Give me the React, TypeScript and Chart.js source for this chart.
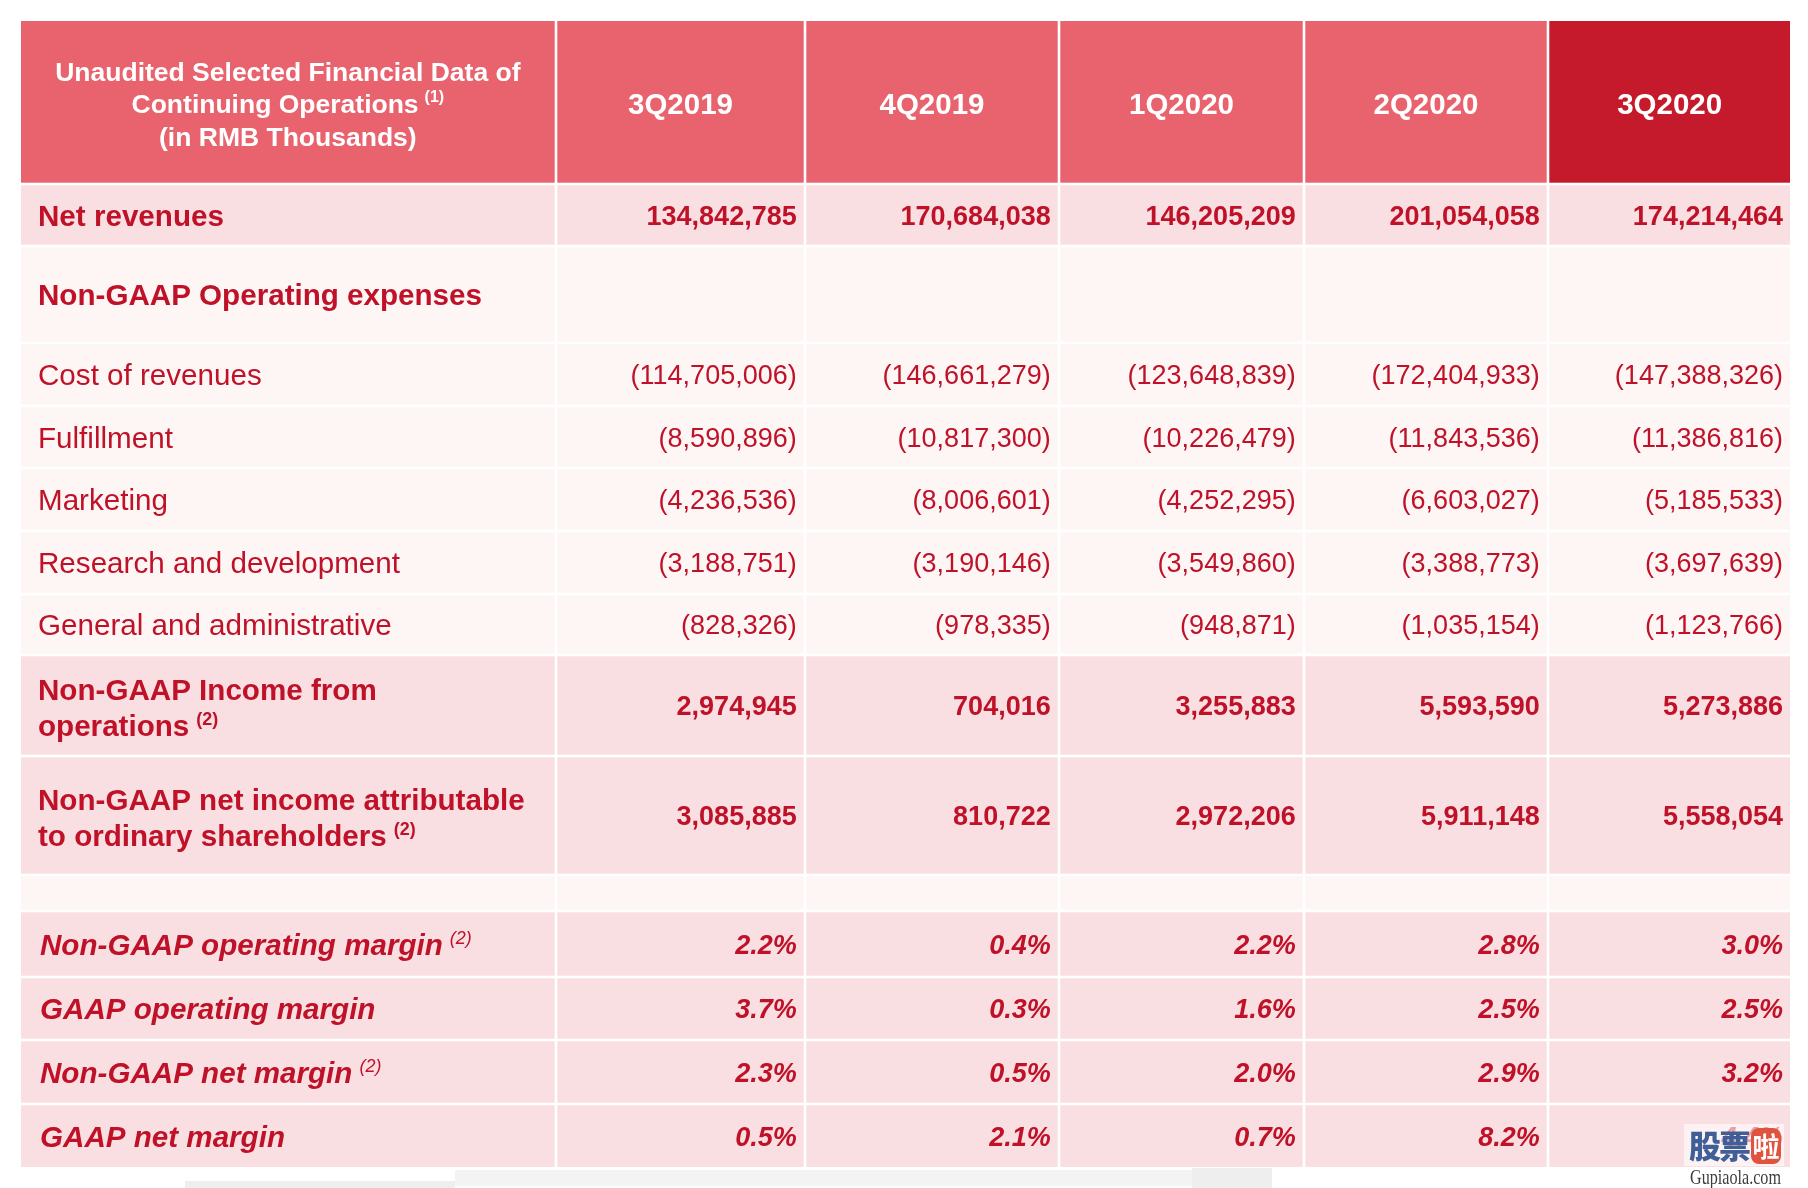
import React, { useEffect, useRef } from 'react';
import { Chart, registerables } from 'chart.js';

Chart.register(...registerables);

// ---------------- DATA ----------------
const quarters = ['3Q2019', '4Q2019', '1Q2020', '2Q2020', '3Q2020'];
const titleLines = ['Unaudited Selected Financial Data of', 'Continuing Operations', '(in RMB Thousands)'];
const titleSup = '(1)';

const netRevenues = [134842785, 170684038, 146205209, 201054058, 174214464];
const costOfRevenues = [-114705006, -146661279, -123648839, -172404933, -147388326];
const fulfillment = [-8590896, -10817300, -10226479, -11843536, -11386816];
const marketing = [-4236536, -8006601, -4252295, -6603027, -5185533];
const researchDevelopment = [-3188751, -3190146, -3549860, -3388773, -3697639];
const generalAdmin = [-828326, -978335, -948871, -1035154, -1123766];
const nonGaapIncomeOps = [2974945, 704016, 3255883, 5593590, 5273886];
const nonGaapNetIncome = [3085885, 810722, 2972206, 5911148, 5558054];
const nonGaapOpMargin = [2.2, 0.4, 2.2, 2.8, 3.0];
const gaapOpMargin = [3.7, 0.3, 1.6, 2.5, 2.5];
const nonGaapNetMargin = [2.3, 0.5, 2.0, 2.9, 3.2];
const gaapNetMargin = [0.5, 2.1, 0.7, 8.2, 4.4];

type Row = {
  kind: 'header' | 'total' | 'section' | 'expense' | 'blank' | 'margin';
  label?: string[];
  sup?: string;
  values?: number[];
};

const rows: Row[] = [
  { kind: 'header' },
  { kind: 'total', label: ['Net revenues'], values: netRevenues },
  { kind: 'section', label: ['Non-GAAP Operating expenses'] },
  { kind: 'expense', label: ['Cost of revenues'], values: costOfRevenues },
  { kind: 'expense', label: ['Fulfillment'], values: fulfillment },
  { kind: 'expense', label: ['Marketing'], values: marketing },
  { kind: 'expense', label: ['Research and development'], values: researchDevelopment },
  { kind: 'expense', label: ['General and administrative'], values: generalAdmin },
  { kind: 'total', label: ['Non-GAAP Income from', 'operations'], sup: '(2)', values: nonGaapIncomeOps },
  { kind: 'total', label: ['Non-GAAP net income attributable', 'to ordinary shareholders'], sup: '(2)', values: nonGaapNetIncome },
  { kind: 'blank' },
  { kind: 'margin', label: ['Non-GAAP operating margin'], sup: '(2)', values: nonGaapOpMargin },
  { kind: 'margin', label: ['GAAP operating margin'], values: gaapOpMargin },
  { kind: 'margin', label: ['Non-GAAP net margin'], sup: '(2)', values: nonGaapNetMargin },
  { kind: 'margin', label: ['GAAP net margin'], values: gaapNetMargin },
];

// ---------------- LAYOUT (scale units) ----------------
const W = 1808;
const H = 1188;
const colEdges = [21, 556, 805, 1059, 1304, 1548, 1790];
const rowEdges = [21, 184, 246, 343, 406, 468, 531, 594, 655, 756, 875, 911, 977, 1040, 1104, 1167];
const GAP = 1.3;

const FONT = '"Liberation Sans", Arial, Helvetica, sans-serif';
const TEXT_RED = '#BF1128';
const HEADER_BG = '#E9636F';
const HEADER_HL = '#C51A2B';
const PINK = '#F9DFE2';
const LIGHT = '#FEF5F5';

const fmtInt = (v: number) => {
  const s = Math.abs(v).toLocaleString('en-US');
  return v < 0 ? '(' + s + ')' : s;
};
const fmtPct = (v: number) => v.toFixed(1) + '%';

const tablePlugin = {
  id: 'tablePlugin',
  afterDraw(chart: any) {
    const ctx: CanvasRenderingContext2D = chart.ctx;
    const xs = chart.scales.x;
    const ys = chart.scales.y;
    const px = (v: number) => xs.getPixelForValue(v);
    const py = (v: number) => ys.getPixelForValue(v);
    const nC = colEdges.length - 1;
    const nR = rowEdges.length - 1;

    const cellRect = (r: number, c: number) => {
      const x0 = px(colEdges[c] + (c > 0 ? GAP : 0));
      const x1 = px(colEdges[c + 1] - (c < nC - 1 ? GAP : 0));
      const y0 = py(rowEdges[r] + (r > 0 ? GAP : 0));
      const y1 = py(rowEdges[r + 1] - (r < nR - 1 ? GAP : 0));
      return { x0, x1, y0, y1, cx: (x0 + x1) / 2, cy: (y0 + y1) / 2 };
    };

    ctx.save();
    // backgrounds
    rows.forEach((row, r) => {
      for (let c = 0; c < nC; c++) {
        const rc = cellRect(r, c);
        let bg = LIGHT;
        if (row.kind === 'header') bg = c === nC - 1 ? HEADER_HL : HEADER_BG;
        else if (row.kind === 'total' || row.kind === 'margin') bg = PINK;
        ctx.fillStyle = bg;
        ctx.fillRect(rc.x0, rc.y0, rc.x1 - rc.x0, rc.y1 - rc.y0);
      }
    });

    // text
    rows.forEach((row, r) => {
      const rc0 = cellRect(r, 0);
      if (row.kind === 'header') {
        ctx.fillStyle = '#FFFFFF';
        const fs = 26.5;
        const lh = 32.3;
        titleLines.forEach((line, i) => {
          const cy = rc0.cy + 2 + (i - 1) * lh;
          ctx.font = `bold ${fs}px ${FONT}`;
          const w = ctx.measureText(line).width;
          let supW = 0;
          if (i === 1) {
            ctx.font = `bold 16px ${FONT}`;
            supW = ctx.measureText(titleSup).width + 6;
          }
          const startX = rc0.cx - (w + supW) / 2;
          ctx.font = `bold ${fs}px ${FONT}`;
          ctx.textAlign = 'left';
          ctx.textBaseline = 'alphabetic';
          const base = cy + fs * 0.36;
          ctx.fillText(line, startX, base);
          if (i === 1) {
            ctx.font = `bold 16px ${FONT}`;
            ctx.fillText(titleSup, startX + w + 6, base - 11);
          }
        });
        quarters.forEach((q, i) => {
          const rc = cellRect(r, i + 1);
          ctx.font = `bold 29.5px ${FONT}`;
          ctx.textAlign = 'center';
          ctx.fillText(q, rc.cx, rc.cy + 2 + 29.5 * 0.36);
        });
        return;
      }
      if (!row.label) return;
      const bold = row.kind !== 'expense';
      const italic = row.kind === 'margin';
      const fs = 29.6;
      const lf = `${italic ? 'italic ' : ''}${bold ? 'bold ' : ''}${fs}px ${FONT}`;
      const lh = 35.7;
      const n = row.label.length;
      const lx = px(italic ? 40 : 38);
      ctx.fillStyle = TEXT_RED;
      ctx.textAlign = 'left';
      ctx.textBaseline = 'alphabetic';
      row.label.forEach((line, i) => {
        const cy = rc0.cy + (n > 1 ? 2 : 0) + (i - (n - 1) / 2) * lh;
        const base = cy + fs * 0.36;
        ctx.font = lf;
        ctx.fillText(line, lx, base);
        if (row.sup && i === n - 1) {
          const w = ctx.measureText(line).width;
          ctx.font = `${italic ? 'italic ' : ''}${italic ? '' : 'bold '}18px ${FONT}`;
          ctx.fillText(row.sup, lx + w + 7, base - 11);
        }
      });
      if (row.values) {
        const vf = `${italic ? 'italic ' : ''}${bold ? 'bold ' : ''}27px ${FONT}`;
        ctx.font = vf;
        ctx.textAlign = 'right';
        row.values.forEach((v, i) => {
          const rc = cellRect(r, i + 1);
          const txt = row.kind === 'margin' ? fmtPct(v) : fmtInt(v);
          ctx.fillText(txt, rc.x1 - 7, rc.cy + 27 * 0.36);
        });
      }
    });

    // scroll-bar remnants at bottom
    ctx.fillStyle = '#F3F3F3';
    ctx.fillRect(px(455), py(1170), px(1192) - px(455), py(1186) - py(1170));
    ctx.fillStyle = '#EEEEEE';
    ctx.fillRect(px(185), py(1181), px(455) - px(185), py(1188) - py(1181));
    ctx.fillRect(px(1192), py(1168), px(1272) - px(1192), py(1188) - py(1168));

    // watermark
    ctx.fillStyle = 'rgba(255,255,255,0.6)';
    ctx.fillRect(px(1684), py(1124), px(1784) - px(1684), py(1166) - py(1124));
    ctx.textAlign = 'center';
    ctx.textBaseline = 'middle';
    ctx.font = `900 32px "Noto Sans CJK SC", sans-serif`;
    ctx.fillStyle = '#3F5F96';
    ctx.fillText('股', px(1705), py(1146));
    ctx.fillText('票', px(1735), py(1146));
    ctx.fillStyle = '#E0533F';
    const bx = px(1751), by = py(1128), bw = px(1781) - px(1751), bh = py(1164) - py(1128);
    ctx.beginPath();
    (ctx as any).roundRect ? (ctx as any).roundRect(bx, by, bw, bh, 8) : ctx.rect(bx, by, bw, bh);
    ctx.fill();
    ctx.fillStyle = '#FFFFFF';
    ctx.font = `bold 27px "Noto Sans CJK SC", sans-serif`;
    ctx.fillText('啦', bx + bw / 2, by + bh / 2 + 1);
    ctx.textAlign = 'left';
    ctx.textBaseline = 'alphabetic';
    ctx.fillStyle = '#3C3C3C';
    ctx.font = `21px "Liberation Serif", "DejaVu Serif", serif`;
    ctx.fillText('Gupiaola.com', px(1690), py(1184), px(1781) - px(1690));
    ctx.restore();
  },
};

export default function App() {
  const ref = useRef<HTMLCanvasElement | null>(null);
  useEffect(() => {
    if (!ref.current) return;
    const chart = new Chart(ref.current, {
      type: 'scatter',
      data: { datasets: [{ data: [], pointRadius: 0 }] },
      options: {
        animation: false,
        responsive: false,
        devicePixelRatio: 1,
        layout: { padding: 0 },
        plugins: { legend: { display: false }, tooltip: { enabled: false }, title: { display: false } },
        scales: {
          x: { type: 'linear', min: 0, max: W, display: false },
          y: { type: 'linear', min: 0, max: H, reverse: true, display: false },
        },
        events: [],
      },
      plugins: [tablePlugin],
    } as any);
    return () => chart.destroy();
  }, []);
  return (
    <div style={{ position: 'fixed', left: 0, top: 0, width: W, height: H, background: '#FFFFFF' }}>
      <canvas ref={ref} width={W} height={H} style={{ display: 'block', width: W, height: H }} />
    </div>
  );
}
